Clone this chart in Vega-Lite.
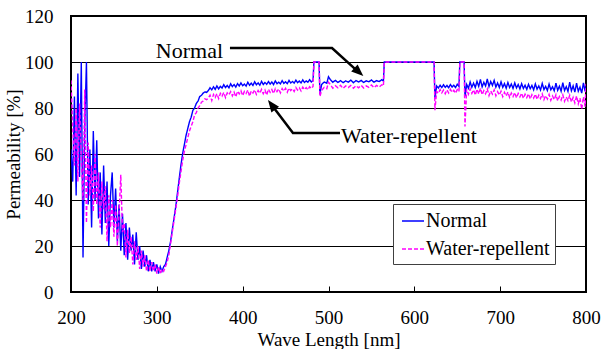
{
  "$schema": "https://vega.github.io/schema/vega-lite/v6.json",
  "width": 515,
  "height": 276,
  "autosize": {"type": "none"},
  "padding": {"left": 71, "top": 16, "right": 18, "bottom": 57},
  "background": "white",
  "config": {
    "view": {"stroke": "black", "strokeWidth": 2},
    "font": "Liberation Serif, Times New Roman, Times, serif",
    "axis": {"labelFont": "Liberation Serif, Times New Roman, Times, serif", "titleFont": "Liberation Serif, Times New Roman, Times, serif", "labelColor": "black", "titleColor": "black", "titleFontWeight": "normal", "labelFontSize": 19, "titleFontSize": 19, "labelFlush": false},
    "legend": {"labelFont": "Liberation Serif, Times New Roman, Times, serif", "labelFontSize": 20, "labelColor": "black", "symbolType": "stroke", "symbolSize": 484, "symbolStrokeWidth": 1.5, "fillColor": "white", "strokeColor": "#404040", "padding": 5, "rowPadding": 6, "labelOffset": 1, "symbolOffset": 3}
  },
  "datasets": {
    "spec": [
      {"nm":200,"Normal":62,"Water-repellent":92},{"nm":202,"Normal":48,"Water-repellent":72},{"nm":204,"Normal":85,"Water-repellent":55},{"nm":206,"Normal":42,"Water-repellent":80},{"nm":208,"Normal":95,"Water-repellent":48},{"nm":210,"Normal":50,"Water-repellent":82},{"nm":212,"Normal":100,"Water-repellent":58},{"nm":214,"Normal":15,"Water-repellent":40},{"nm":216,"Normal":72,"Water-repellent":88},{"nm":218,"Normal":100,"Water-repellent":30},{"nm":220,"Normal":38,"Water-repellent":65},{"nm":222,"Normal":62,"Water-repellent":42},{"nm":224,"Normal":28,"Water-repellent":55},{"nm":226,"Normal":70,"Water-repellent":35},{"nm":228,"Normal":40,"Water-repellent":60},{"nm":230,"Normal":66,"Water-repellent":38},{"nm":232,"Normal":32,"Water-repellent":52},{"nm":234,"Normal":52,"Water-repellent":28},{"nm":236,"Normal":25,"Water-repellent":48},{"nm":238,"Normal":55,"Water-repellent":36},{"nm":240,"Normal":30,"Water-repellent":46},{"nm":242,"Normal":48,"Water-repellent":22},{"nm":244,"Normal":20,"Water-repellent":42},{"nm":246,"Normal":42,"Water-repellent":28},{"nm":248,"Normal":52,"Water-repellent":40},{"nm":250,"Normal":28,"Water-repellent":24},{"nm":252,"Normal":45,"Water-repellent":38},{"nm":254,"Normal":22,"Water-repellent":20},{"nm":256,"Normal":38,"Water-repellent":34},{"nm":258,"Normal":18,"Water-repellent":51},{"nm":260,"Normal":34,"Water-repellent":26},{"nm":262,"Normal":16,"Water-repellent":30},{"nm":264,"Normal":30,"Water-repellent":15},{"nm":266,"Normal":14,"Water-repellent":27},{"nm":268,"Normal":28,"Water-repellent":17},{"nm":270,"Normal":18,"Water-repellent":24},{"nm":272,"Normal":25,"Water-repellent":12},{"nm":274,"Normal":12,"Water-repellent":22},{"nm":276,"Normal":26,"Water-repellent":14},{"nm":278,"Normal":14,"Water-repellent":20},{"nm":280,"Normal":20,"Water-repellent":10},{"nm":282,"Normal":10,"Water-repellent":18},{"nm":284,"Normal":18,"Water-repellent":11},{"nm":286,"Normal":11,"Water-repellent":16},{"nm":288,"Normal":16,"Water-repellent":9},{"nm":290,"Normal":9,"Water-repellent":14},{"nm":292,"Normal":14,"Water-repellent":9},{"nm":294,"Normal":9,"Water-repellent":13},{"nm":296,"Normal":13,"Water-repellent":9},{"nm":298,"Normal":9,"Water-repellent":12},{"nm":300,"Normal":12,"Water-repellent":8},{"nm":302,"Normal":8,"Water-repellent":11},{"nm":304,"Normal":11,"Water-repellent":8},{"nm":306,"Normal":9,"Water-repellent":10},{"nm":308,"Normal":11,"Water-repellent":9},{"nm":310,"Normal":12,"Water-repellent":11},{"nm":312,"Normal":15,"Water-repellent":13},{"nm":314,"Normal":18,"Water-repellent":16},{"nm":316,"Normal":22,"Water-repellent":21},{"nm":318,"Normal":27,"Water-repellent":26},{"nm":320,"Normal":32,"Water-repellent":31},{"nm":322,"Normal":37,"Water-repellent":36},{"nm":324,"Normal":43,"Water-repellent":41},{"nm":326,"Normal":49,"Water-repellent":47},{"nm":328,"Normal":55,"Water-repellent":52},{"nm":330,"Normal":60,"Water-repellent":57},{"nm":332,"Normal":64,"Water-repellent":61},{"nm":334,"Normal":68,"Water-repellent":64},{"nm":336,"Normal":71,"Water-repellent":67},{"nm":338,"Normal":74,"Water-repellent":70},{"nm":340,"Normal":76,"Water-repellent":72},{"nm":342,"Normal":79,"Water-repellent":74},{"nm":344,"Normal":80,"Water-repellent":77},{"nm":346,"Normal":82,"Water-repellent":78},{"nm":348,"Normal":83,"Water-repellent":80},{"nm":350,"Normal":85,"Water-repellent":81},{"nm":352,"Normal":85.5,"Water-repellent":82.5},{"nm":354,"Normal":86.5,"Water-repellent":83},{"nm":356,"Normal":87,"Water-repellent":84},{"nm":358,"Normal":86.8,"Water-repellent":83.6},
      {"nm":360,"Normal":87.6,"Water-repellent":84.3},{"nm":362,"Normal":88.8,"Water-repellent":85.6},{"nm":364,"Normal":87.9,"Water-repellent":83.2},{"nm":366,"Normal":89.2,"Water-repellent":85.9},{"nm":368,"Normal":88.1,"Water-repellent":84.6},{"nm":370,"Normal":89.6,"Water-repellent":86.2},{"nm":372,"Normal":88.3,"Water-repellent":84.1},{"nm":374,"Normal":89.4,"Water-repellent":86.4},{"nm":376,"Normal":88.7,"Water-repellent":85.2},{"nm":378,"Normal":90.1,"Water-repellent":86.8},{"nm":380,"Normal":88.9,"Water-repellent":84.5},{"nm":382,"Normal":89.8,"Water-repellent":86.6},{"nm":384,"Normal":88.8,"Water-repellent":85.7},{"nm":386,"Normal":90.5,"Water-repellent":87.1},{"nm":388,"Normal":89.3,"Water-repellent":85.2},{"nm":390,"Normal":90.2,"Water-repellent":86.9},{"nm":392,"Normal":89.1,"Water-repellent":84.8},{"nm":394,"Normal":90.6,"Water-repellent":87.3},{"nm":396,"Normal":89.6,"Water-repellent":86.1},{"nm":398,"Normal":90.9,"Water-repellent":87.5},{"nm":400,"Normal":89.7,"Water-repellent":85.4},{"nm":402,"Normal":90.4,"Water-repellent":87.2},{"nm":404,"Normal":89.5,"Water-repellent":86.3},{"nm":406,"Normal":91.2,"Water-repellent":87.8},{"nm":408,"Normal":89.9,"Water-repellent":85.1},{"nm":410,"Normal":90.8,"Water-repellent":87.4},{"nm":412,"Normal":89.8,"Water-repellent":86.5},{"nm":414,"Normal":91.4,"Water-repellent":87.9},{"nm":416,"Normal":90.1,"Water-repellent":85.9},{"nm":418,"Normal":90.9,"Water-repellent":87.6},{"nm":420,"Normal":89.9,"Water-repellent":86.4},{"nm":422,"Normal":91.6,"Water-repellent":88.1},{"nm":424,"Normal":90.2,"Water-repellent":86.2},{"nm":426,"Normal":91.1,"Water-repellent":87.8},{"nm":428,"Normal":90.3,"Water-repellent":85.6},{"nm":430,"Normal":91.5,"Water-repellent":88.2},{"nm":432,"Normal":90.4,"Water-repellent":86.8},{"nm":434,"Normal":91.3,"Water-repellent":88.0},{"nm":436,"Normal":90.2,"Water-repellent":86.3},{"nm":438,"Normal":91.8,"Water-repellent":88.4},{"nm":440,"Normal":90.6,"Water-repellent":87.1},{"nm":442,"Normal":91.2,"Water-repellent":88.3},{"nm":444,"Normal":90.5,"Water-repellent":86.6},{"nm":446,"Normal":91.9,"Water-repellent":88.5},{"nm":448,"Normal":90.7,"Water-repellent":87.3},{"nm":450,"Normal":91.4,"Water-repellent":88.6},{"nm":452,"Normal":90.6,"Water-repellent":86.9},{"nm":454,"Normal":92.0,"Water-repellent":88.7},{"nm":456,"Normal":90.9,"Water-repellent":87.6},{"nm":458,"Normal":91.5,"Water-repellent":88.4},{"nm":460,"Normal":90.8,"Water-repellent":87.2},{"nm":462,"Normal":92.1,"Water-repellent":88.9},{"nm":464,"Normal":91.0,"Water-repellent":87.8},{"nm":466,"Normal":91.7,"Water-repellent":88.8},{"nm":468,"Normal":90.9,"Water-repellent":87.4},{"nm":470,"Normal":92.2,"Water-repellent":89.1},{"nm":472,"Normal":91.1,"Water-repellent":88.0},{"nm":474,"Normal":91.8,"Water-repellent":88.9},{"nm":476,"Normal":91.2,"Water-repellent":87.9},{"nm":478,"Normal":92.3,"Water-repellent":89.3},{"nm":480,"Normal":91.3,"Water-repellent":88.5},{"nm":482,"Normal":91.9,"Water-repellent":89.4},
      {"nm":483,"Normal":100,"Water-repellent":100},{"nm":489,"Normal":100,"Water-repellent":100},{"nm":490,"Normal":86,"Water-repellent":85},{"nm":492,"Normal":90.2,"Water-repellent":87.6},{"nm":495,"Normal":91.3,"Water-repellent":89.0},{"nm":498,"Normal":90.8,"Water-repellent":88.4},{"nm":500,"Normal":93.6,"Water-repellent":91.2},{"nm":502,"Normal":92.4,"Water-repellent":90.3},{"nm":505,"Normal":91.2,"Water-repellent":88.6},{"nm":508,"Normal":92.0,"Water-repellent":89.7},{"nm":511,"Normal":91.1,"Water-repellent":88.8},{"nm":514,"Normal":91.9,"Water-repellent":89.9},{"nm":517,"Normal":91.0,"Water-repellent":88.5},{"nm":520,"Normal":91.8,"Water-repellent":89.6},{"nm":523,"Normal":91.2,"Water-repellent":88.9},{"nm":526,"Normal":92.1,"Water-repellent":89.8},{"nm":529,"Normal":91.0,"Water-repellent":88.6},{"nm":532,"Normal":91.9,"Water-repellent":89.7},{"nm":535,"Normal":91.3,"Water-repellent":88.8},{"nm":538,"Normal":92.0,"Water-repellent":89.9},{"nm":541,"Normal":91.1,"Water-repellent":88.7},{"nm":544,"Normal":91.8,"Water-repellent":89.6},{"nm":547,"Normal":91.4,"Water-repellent":89.0},{"nm":550,"Normal":92.2,"Water-repellent":90.0},{"nm":553,"Normal":91.2,"Water-repellent":88.8},{"nm":556,"Normal":91.9,"Water-repellent":89.8},{"nm":559,"Normal":91.5,"Water-repellent":89.1},{"nm":562,"Normal":92.3,"Water-repellent":90.1},{"nm":564,"Normal":91.8,"Water-repellent":89.6},
      {"nm":565,"Normal":100,"Water-repellent":100},{"nm":623,"Normal":100,"Water-repellent":100},{"nm":624,"Normal":84,"Water-repellent":79},{"nm":626,"Normal":89.6,"Water-repellent":87.2},{"nm":628,"Normal":88.7,"Water-repellent":86.4},{"nm":630,"Normal":89.9,"Water-repellent":88.0},{"nm":632,"Normal":88.9,"Water-repellent":86.6},{"nm":634,"Normal":90.1,"Water-repellent":87.8},{"nm":636,"Normal":89.0,"Water-repellent":86.2},{"nm":638,"Normal":89.8,"Water-repellent":87.9},{"nm":640,"Normal":88.8,"Water-repellent":86.5},{"nm":642,"Normal":90.2,"Water-repellent":88.1},{"nm":644,"Normal":89.1,"Water-repellent":86.8},{"nm":646,"Normal":89.9,"Water-repellent":87.7},{"nm":648,"Normal":88.9,"Water-repellent":86.4},{"nm":650,"Normal":90.3,"Water-repellent":88.0},{"nm":652,"Normal":89.4,"Water-repellent":87.1},{"nm":653,"Normal":100,"Water-repellent":100},{"nm":658,"Normal":100,"Water-repellent":100},{"nm":659,"Normal":85,"Water-repellent":72},
      {"nm":661,"Normal":90.2,"Water-repellent":88.1},{"nm":663,"Normal":88.6,"Water-repellent":86.0},{"nm":665,"Normal":91.3,"Water-repellent":88.4},{"nm":667,"Normal":89.0,"Water-repellent":86.3},{"nm":669,"Normal":90.8,"Water-repellent":87.9},{"nm":671,"Normal":88.9,"Water-repellent":85.6},{"nm":673,"Normal":91.6,"Water-repellent":88.2},{"nm":675,"Normal":89.4,"Water-repellent":86.1},{"nm":677,"Normal":92.4,"Water-repellent":88.6},{"nm":679,"Normal":89.2,"Water-repellent":85.8},{"nm":681,"Normal":91.2,"Water-repellent":87.6},{"nm":683,"Normal":89.6,"Water-repellent":86.2},{"nm":685,"Normal":92.6,"Water-repellent":88.3},{"nm":687,"Normal":89.3,"Water-repellent":85.4},{"nm":689,"Normal":91.5,"Water-repellent":87.4},{"nm":691,"Normal":89.8,"Water-repellent":86.0},{"nm":693,"Normal":92.0,"Water-repellent":87.9},{"nm":695,"Normal":89.1,"Water-repellent":85.3},{"nm":697,"Normal":90.9,"Water-repellent":87.1},{"nm":699,"Normal":88.9,"Water-repellent":85.6},{"nm":701,"Normal":91.4,"Water-repellent":87.3},{"nm":703,"Normal":89.0,"Water-repellent":84.9},{"nm":705,"Normal":90.6,"Water-repellent":86.8},{"nm":707,"Normal":88.6,"Water-repellent":85.2},{"nm":709,"Normal":91.1,"Water-repellent":87.0},{"nm":711,"Normal":88.9,"Water-repellent":84.6},{"nm":713,"Normal":90.4,"Water-repellent":86.5},{"nm":715,"Normal":88.5,"Water-repellent":85.0},{"nm":717,"Normal":90.9,"Water-repellent":86.7},{"nm":719,"Normal":88.7,"Water-repellent":84.4},{"nm":721,"Normal":90.2,"Water-repellent":86.3},{"nm":723,"Normal":88.3,"Water-repellent":84.8},{"nm":725,"Normal":90.6,"Water-repellent":86.4},{"nm":727,"Normal":88.5,"Water-repellent":84.2},{"nm":729,"Normal":89.9,"Water-repellent":86.0},{"nm":731,"Normal":88.1,"Water-repellent":84.5},{"nm":733,"Normal":90.3,"Water-repellent":86.2},{"nm":735,"Normal":88.4,"Water-repellent":83.9},{"nm":737,"Normal":89.8,"Water-repellent":85.8},{"nm":739,"Normal":87.9,"Water-repellent":84.3},{"nm":741,"Normal":90.5,"Water-repellent":86.0},{"nm":743,"Normal":88.2,"Water-repellent":83.7},{"nm":745,"Normal":89.6,"Water-repellent":85.6},{"nm":747,"Normal":87.8,"Water-repellent":84.1},{"nm":749,"Normal":90.7,"Water-repellent":86.1},{"nm":751,"Normal":88.0,"Water-repellent":83.6},{"nm":753,"Normal":89.4,"Water-repellent":85.4},{"nm":755,"Normal":87.6,"Water-repellent":83.9},{"nm":757,"Normal":90.4,"Water-repellent":85.9},{"nm":759,"Normal":87.9,"Water-repellent":83.3},{"nm":761,"Normal":89.2,"Water-repellent":85.2},{"nm":763,"Normal":87.5,"Water-repellent":83.6},{"nm":765,"Normal":90.8,"Water-repellent":85.8},{"nm":767,"Normal":87.7,"Water-repellent":83.1},{"nm":769,"Normal":89.5,"Water-repellent":85.0},{"nm":771,"Normal":87.3,"Water-repellent":83.4},{"nm":773,"Normal":91.0,"Water-repellent":85.7},{"nm":775,"Normal":87.6,"Water-repellent":82.9},{"nm":777,"Normal":89.3,"Water-repellent":84.8},{"nm":779,"Normal":87.2,"Water-repellent":83.2},{"nm":781,"Normal":91.2,"Water-repellent":85.5},{"nm":783,"Normal":87.5,"Water-repellent":82.6},{"nm":785,"Normal":89.6,"Water-repellent":84.6},{"nm":787,"Normal":86.9,"Water-repellent":82.2},{"nm":789,"Normal":90.8,"Water-repellent":85.2},{"nm":791,"Normal":87.3,"Water-repellent":81.8},{"nm":793,"Normal":89.1,"Water-repellent":84.3},{"nm":795,"Normal":86.5,"Water-repellent":79.5},{"nm":797,"Normal":90.9,"Water-repellent":84.8},{"nm":799,"Normal":87.2,"Water-repellent":80.6},{"nm":800,"Normal":89.5,"Water-repellent":90.5}
    ],
    "arrows": [
      {"id":"a","o":1,"nm":385.2,"value":106.1},{"id":"a","o":2,"nm":504.1,"value":106.1},{"id":"a","o":3,"nm":531.5,"value":96.8},
      {"id":"b","o":1,"nm":513.4,"value":69.1},{"id":"b","o":2,"nm":458.6,"value":69.1},{"id":"b","o":3,"nm":436.5,"value":80.0}
    ],
    "heads": [
      {"id":"a","nm":540.6,"value":93.9},{"id":"b","nm":429.5,"value":83.5}
    ]
  },
  "layer": [
    {
      "data": {"name": "spec"},
      "transform": [{"fold": ["Normal", "Water-repellent"], "as": ["series", "value"]}],
      "mark": {"type": "line", "strokeWidth": 1.4, "clip": true},
      "encoding": {
        "x": {"field": "nm", "type": "quantitative", "scale": {"domain": [200, 800], "nice": false},
              "axis": {"values": [200,300,400,500,600,700,800], "title": "Wave Length [nm]", "grid": false, "domain": false, "offset": -6, "tickSize": 6, "tickColor": "black", "tickWidth": 1, "labelPadding": 16, "titlePadding": 3}},
        "y": {"field": "value", "type": "quantitative", "scale": {"domain": [0, 120], "nice": false},
              "axis": {"values": [0,20,40,60,80,100,120], "title": "Permeability [%]", "grid": true, "gridColor": "black", "gridWidth": 1, "gridOpacity": 1, "ticks": false, "domain": false, "labelPadding": 18, "titlePadding": 1}},
        "color": {"field": "series", "type": "nominal", "scale": {"domain": ["Normal", "Water-repellent"], "range": ["#0000ff", "#ff00ff"]},
                  "legend": {"title": null, "orient": "none", "legendX": 322, "legendY": 188}},
        "strokeDash": {"field": "series", "type": "nominal", "scale": {"domain": ["Normal", "Water-repellent"], "range": [[1, 0], [4, 2]]},
                  "legend": {"title": null, "orient": "none", "legendX": 322, "legendY": 188}}
      }
    },
    {
      "data": {"name": "arrows"},
      "mark": {"type": "line", "color": "black", "strokeWidth": 2.5},
      "encoding": {
        "x": {"field": "nm", "type": "quantitative"},
        "y": {"field": "value", "type": "quantitative"},
        "detail": {"field": "id", "type": "nominal"},
        "order": {"field": "o", "type": "quantitative"}
      }
    },
    {
      "data": {"name": "heads"},
      "transform": [{"filter": "datum.id === 'a'"}],
      "mark": {"type": "point", "shape": "M0,0L-1,-0.4L-1,0.4Z", "filled": true, "color": "black", "opacity": 1, "size": 576, "angle": 41.8, "strokeWidth": 0},
      "encoding": {
        "x": {"field": "nm", "type": "quantitative"},
        "y": {"field": "value", "type": "quantitative"}
      }
    },
    {
      "data": {"name": "heads"},
      "transform": [{"filter": "datum.id === 'b'"}],
      "mark": {"type": "point", "shape": "M0,0L-1,-0.4L-1,0.4Z", "filled": true, "color": "black", "opacity": 1, "size": 576, "angle": 232.9, "strokeWidth": 0},
      "encoding": {
        "x": {"field": "nm", "type": "quantitative"},
        "y": {"field": "value", "type": "quantitative"}
      }
    },
    {
      "data": {"values": [{"nm": 377.1, "value": 101.9, "label": "Normal"}]},
      "mark": {"type": "text", "font": "Liberation Serif, Times New Roman, Times, serif", "fontSize": 22, "align": "right", "baseline": "alphabetic", "color": "black"},
      "encoding": {
        "x": {"field": "nm", "type": "quantitative"},
        "y": {"field": "value", "type": "quantitative"},
        "text": {"field": "label"}
      }
    },
    {
      "data": {"values": [{"nm": 514.6, "value": 64.8, "label": "Water-repellent"}]},
      "mark": {"type": "text", "font": "Liberation Serif, Times New Roman, Times, serif", "fontSize": 22, "align": "left", "baseline": "alphabetic", "color": "black"},
      "encoding": {
        "x": {"field": "nm", "type": "quantitative"},
        "y": {"field": "value", "type": "quantitative"},
        "text": {"field": "label"}
      }
    }
  ]
}
